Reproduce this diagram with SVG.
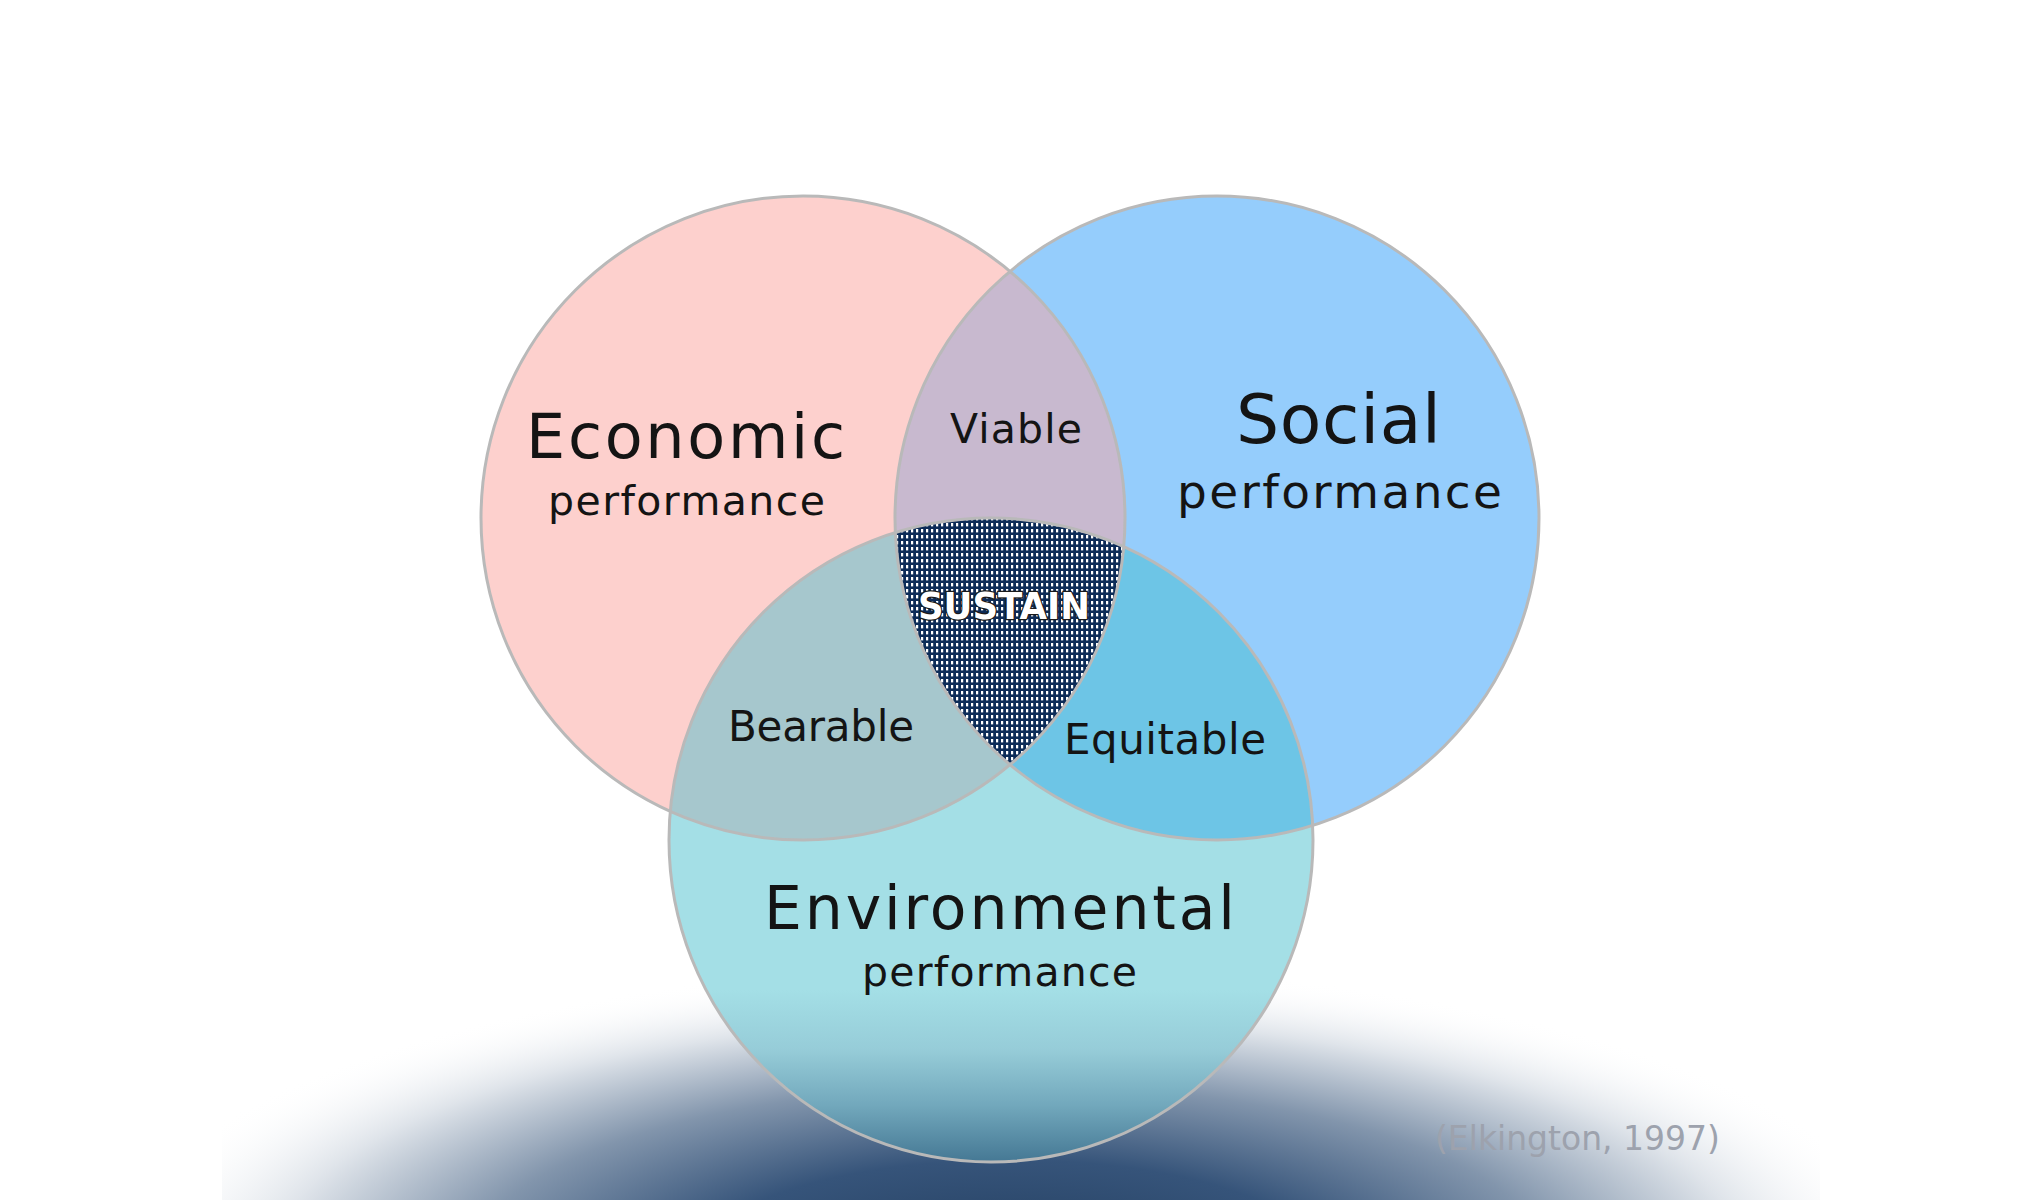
<svg xmlns="http://www.w3.org/2000/svg" width="2040" height="1200" viewBox="0 0 2040 1200">
  <style>
    .lbl { font-family: "DejaVu Sans", "Noto Sans", sans-serif; fill: #141414; }
    .outline { fill: none; stroke: #b9b9b9; stroke-width: 3; }
    .sustain { font-family: "DejaVu Sans", "Noto Sans", sans-serif; font-weight: bold; fill: #ffffff; stroke: #1a1a1a; stroke-width: 2.5; paint-order: stroke; }
    .cite { font-family: "DejaVu Sans", "Noto Sans", sans-serif; fill: #9da2ad; }
  </style>
  <defs>
    <radialGradient id="shade" gradientUnits="userSpaceOnUse" cx="0" cy="0" r="1" gradientTransform="translate(1010 1265) scale(900 300)">
      <stop offset="0" stop-color="#223d5e"/>
      <stop offset="0.35" stop-color="#36547a"/>
      <stop offset="0.6" stop-color="#8295ac"/>
      <stop offset="0.82" stop-color="#dfe4ea"/>
      <stop offset="1" stop-color="#ffffff" stop-opacity="0"/>
    </radialGradient>
    <linearGradient id="envFill" gradientUnits="userSpaceOnUse" x1="0" y1="990" x2="0" y2="1162">
      <stop offset="0" stop-color="#a4dfe6"/>
      <stop offset="0.35" stop-color="#96ccd8"/>
      <stop offset="0.67" stop-color="#72a8bc"/>
      <stop offset="1" stop-color="#457894"/>
    </linearGradient>
    <pattern id="dots" patternUnits="userSpaceOnUse" width="5" height="6">
      <rect width="5" height="6" fill="#0c2b57"/>
      <rect x="1" y="1" width="2.2" height="3.4" fill="#ffffff"/>
    </pattern>
    <clipPath id="cEcon"><circle cx="803" cy="518" r="322"/></clipPath>
    <clipPath id="cSocial"><circle cx="1217" cy="518" r="322"/></clipPath>
    <clipPath id="cShade"><rect x="222" y="880" width="1598" height="320"/></clipPath>
  </defs>

  <rect width="2040" height="1200" fill="#ffffff"/>
  <rect x="222" y="880" width="1598" height="320" fill="url(#shade)" clip-path="url(#cShade)"/>

  <g id="economic">
    <circle cx="803" cy="518" r="322" fill="#fdd0cd"/>
  </g>
  <g id="social">
    <circle cx="1217" cy="518" r="322" fill="#95cdfc"/>
  </g>
  <g id="environmental">
    <circle cx="991" cy="840" r="322" fill="url(#envFill)"/>
  </g>

  <g id="overlaps">
    <g id="viable" clip-path="url(#cEcon)">
      <circle cx="1217" cy="518" r="322" fill="#c8b9cf"/>
    </g>
    <g id="bearable" clip-path="url(#cEcon)">
      <circle cx="991" cy="840" r="322" fill="#a6c7cd"/>
    </g>
    <g id="equitable" clip-path="url(#cSocial)">
      <circle cx="991" cy="840" r="322" fill="#6dc5e6"/>
    </g>
    <g id="sustain" clip-path="url(#cEcon)">
      <g clip-path="url(#cSocial)">
        <circle cx="991" cy="840" r="322" fill="url(#dots)"/>
      </g>
    </g>
  </g>

  <g id="outlines">
    <circle class="outline" cx="803" cy="518" r="322"/>
    <circle class="outline" cx="1217" cy="518" r="322"/>
    <circle class="outline" cx="991" cy="840" r="322"/>
  </g>

  <g id="connectors"/>

  <g id="labels">
    <text class="lbl" x="526" y="458" font-size="62" textLength="319" lengthAdjust="spacing">Economic</text>
    <text class="lbl" x="548" y="515" font-size="41" textLength="277" lengthAdjust="spacing">performance</text>
    <text class="lbl" x="950" y="443" font-size="41" textLength="132" lengthAdjust="spacing">Viable</text>
    <text class="lbl" x="1236" y="443" font-size="68" textLength="205" lengthAdjust="spacing">Social</text>
    <text class="lbl" x="1177" y="508" font-size="47" textLength="325" lengthAdjust="spacing">performance</text>
    <text class="lbl" x="728" y="741" font-size="42" textLength="186" lengthAdjust="spacing">Bearable</text>
    <text class="lbl" x="1064" y="754" font-size="42" textLength="202" lengthAdjust="spacing">Equitable</text>
    <text class="lbl" x="764" y="929" font-size="60" textLength="471" lengthAdjust="spacing">Environmental</text>
    <text class="lbl" x="862" y="986" font-size="41" textLength="275" lengthAdjust="spacing">performance</text>
    <text class="sustain" x="918" y="619" font-size="37" textLength="172" lengthAdjust="spacingAndGlyphs">SUSTAIN</text>
  </g>

  <g id="citation">
    <text class="cite" x="1435" y="1150" font-size="33">(Elkington, 1997)</text>
  </g>
</svg>
